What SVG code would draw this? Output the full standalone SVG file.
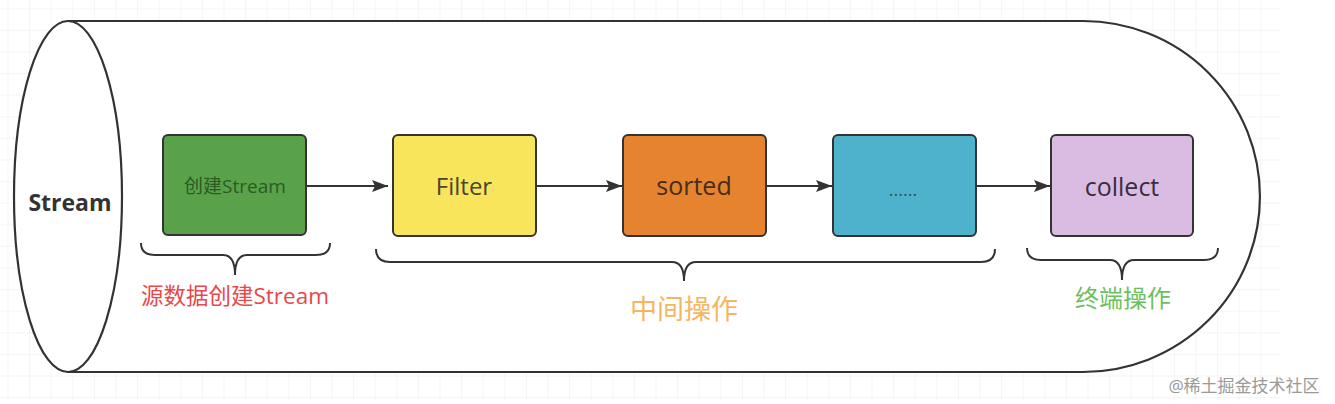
<svg xmlns="http://www.w3.org/2000/svg" width="1335" height="404" viewBox="0 0 1335 404">
<defs>
<pattern id="grid" x="7.5" y="8.3" width="21.6" height="21.6" patternUnits="userSpaceOnUse">
<path d="M0 0H21.6M0 0V21.6" fill="none" stroke="#ebebeb" stroke-width="1"/>
</pattern>
<marker id="arr" viewBox="0 0 16 12" refX="16" refY="6" markerWidth="16" markerHeight="12" markerUnits="userSpaceOnUse" orient="auto">
<path d="M0 0L16 6L0 12L3 6Z" fill="#333"/>
</marker>
<style>
.outline{fill:#fff;stroke:#333;stroke-width:2.2}
.box{stroke:#333;stroke-width:2}
.lbl{font-family:"Open Sans","Noto Sans CJK SC",sans-serif;text-anchor:middle}
.conn{stroke:#333;stroke-width:2;fill:none}
.brace{stroke:#333;stroke-width:2;fill:none}
</style>
</defs>
<rect x="0" y="0" width="1335" height="404" fill="#fff"/>
<rect x="0" y="0" width="1281" height="400" fill="url(#grid)"/>

<g id="stream-container">
<path class="outline" d="M68 21H1083A177 175.5 0 0 1 1083 372H68Z"/>
<ellipse class="outline" cx="68" cy="196.5" rx="54" ry="175.5"/>
<text class="lbl" x="70" y="211" font-size="23" font-weight="bold" fill="#333">Stream</text>
</g>

<g id="node-create">
<rect class="box" x="163" y="135" width="143" height="100" rx="5" fill="#5aa24a"/>
<text class="lbl" x="235" y="193" font-size="19" fill="#2b5a26">创建Stream</text>
</g>
<g id="node-filter">
<rect class="box" x="393" y="135" width="143" height="101" rx="5" fill="#f8e55c"/>
<text class="lbl" x="464" y="195" font-size="24" fill="#4a4630">Filter</text>
</g>
<g id="node-sorted">
<rect class="box" x="623" y="135" width="143" height="101" rx="5" fill="#e6832f"/>
<text class="lbl" x="694" y="195" font-size="25" fill="#452e1c">sorted</text>
</g>
<g id="node-more">
<rect class="box" x="833" y="135" width="143" height="101" rx="5" fill="#4fb2cc"/>
<text class="lbl" x="903" y="196" font-size="18" fill="#2d5566">......</text>
</g>
<g id="node-collect">
<rect class="box" x="1051" y="135" width="142" height="101" rx="5" fill="#dabce3"/>
<text class="lbl" x="1122" y="196" font-size="25" fill="#3b2c40">collect</text>
</g>

<g id="connectors">
<line class="conn" x1="306" y1="186" x2="388" y2="186" marker-end="url(#arr)"/>
<line class="conn" x1="536" y1="186" x2="622" y2="186" marker-end="url(#arr)"/>
<line class="conn" x1="766" y1="186" x2="832" y2="186" marker-end="url(#arr)"/>
<line class="conn" x1="976" y1="186" x2="1050" y2="186" marker-end="url(#arr)"/>
</g>

<g id="brace-source">
<path class="brace" d="M141 243Q141 255 155 255H223Q235 255 235 275Q235 255 247 255H316Q330 255 330 243"/>
<text class="lbl" x="235" y="304" font-size="22.5" fill="#e8484b">源数据创建Stream</text>
</g>
<g id="brace-intermediate">
<path class="brace" d="M376 249Q376 262 390 262H672Q684 262 684 281Q684 262 696 262H981Q995 262 995 249"/>
<text class="lbl" x="684" y="319" font-size="27" fill="#f6b661">中间操作</text>
</g>
<g id="brace-terminal">
<path class="brace" d="M1027 248Q1027 260 1041 260H1110Q1122 260 1122 280Q1122 260 1134 260H1204Q1218 260 1218 248"/>
<text class="lbl" x="1123" y="307" font-size="24" fill="#6dbf5e">终端操作</text>
</g>

<text class="lbl" x="1244" y="392" font-size="17" fill="#9a9a9a">@稀土掘金技术社区</text>
</svg>
